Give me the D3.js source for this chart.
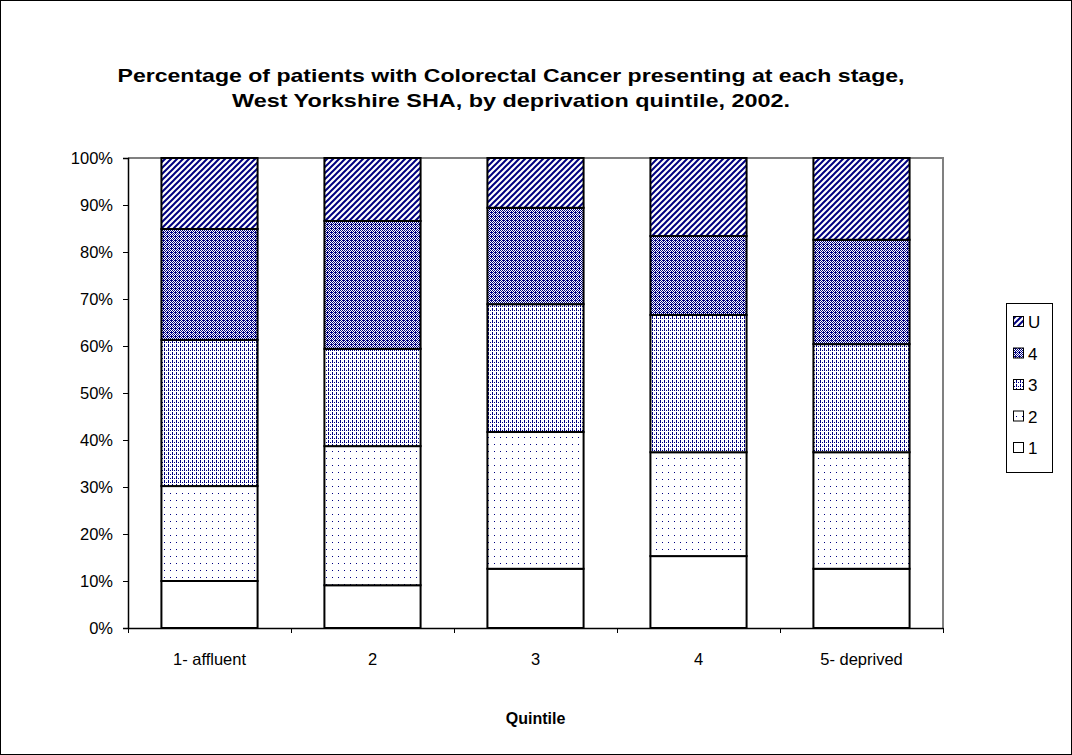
<!DOCTYPE html>
<html><head><meta charset="utf-8">
<script src="https://cdn.jsdelivr.net/npm/d3@7"></script>
<style>
body{margin:0;background:#fff}
svg{display:block}
text{font-family:"Liberation Sans",Arial,sans-serif;fill:#000}
</style>
</head><body>
<svg id="chart" width="1072" height="755"></svg>
<script>
// ---- data ----
const categories = ["1- affluent", "2", "3", "4", "5- deprived"];
const stages = ["1", "2", "3", "4", "U"];
const stage1 = [10.0, 9.1, 12.6, 15.3, 12.6];
const stage2 = [20.2, 29.6, 29.1, 22.1, 24.8];
const stage3 = [31.1, 20.7, 27.2, 29.2, 23.0];
const stage4 = [23.6, 27.2, 20.5, 16.8, 22.2];
const stageU = [15.1, 13.4, 10.6, 16.6, 17.4];
const yTicks = [0, 10, 20, 30, 40, 50, 60, 70, 80, 90, 100];
const titleLines = ["Percentage of patients with Colorectal Cancer presenting at each stage,",
                    "West Yorkshire SHA, by deprivation quintile, 2002."];
const xTitle = "Quintile";

(function () {
const seriesValues = {"1": stage1, "2": stage2, "3": stage3, "4": stage4, "U": stageU};
const rows = categories.map((c, i) => {
  const r = {cat: c};
  stages.forEach(s => r[s] = seriesValues[s][i]);
  return r;
});

const svg = d3.select("#chart");
const NAVY = "#000080";
const FONT = '"Liberation Sans",Arial,sans-serif';

// ---- patterns ----
const defs = svg.append("defs");
function pixPattern(id, w, h, pixels) {
  const p = defs.append("pattern").attr("id", id).attr("patternUnits", "userSpaceOnUse")
    .attr("width", w).attr("height", h);
  p.append("rect").attr("width", w).attr("height", h).attr("fill", "#fff");
  pixels.forEach(([px, py, pw, ph]) => p.append("rect").attr("x", px).attr("y", py)
    .attr("width", pw || 1).attr("height", ph || 1).attr("fill", NAVY));
  return p;
}
pixPattern("pat1", 4, 4, []);
pixPattern("pat2", 6, 7, [[2, 3]]);
pixPattern("pat3", 4, 4, [[0, 0, 1, 3], [2, 2]]);
pixPattern("pat4", 4, 4, [[0, 0], [2, 0], [1, 1], [3, 1], [0, 2], [2, 2], [1, 3], [3, 3], [3, 0]]);
const pu = defs.append("pattern").attr("id", "patU").attr("patternUnits", "userSpaceOnUse")
  .attr("width", 6).attr("height", 6);
pu.append("rect").attr("width", 6).attr("height", 6).attr("fill", "#fff");
pu.append("path").attr("d", "M-1,1 L1,-1 M0,6 L6,0 M5,7 L7,5")
  .attr("stroke", NAVY).attr("stroke-width", 2);
const fills = {"1": "url(#pat1)", "2": "url(#pat2)", "3": "url(#pat3)", "4": "url(#pat4)", "U": "url(#patU)"};

// ---- outer frame ----
svg.append("rect").attr("x", 0.5).attr("y", 0.5).attr("width", 1071).attr("height", 754)
  .attr("fill", "#fff").attr("stroke", "#000").attr("stroke-width", 1);

// ---- scales ----
const pL = 128, pR = 943, pT = 158, pB = 628;
const x = d3.scaleBand().domain(categories).range([pL, pR]).paddingInner(0.41).paddingOuter(0.205);
const y = d3.scaleLinear().domain([0, 100]).range([pB, pT]);
const xb = d3.scaleLinear().domain([0, categories.length]).range([pL, pR]);

svg.append("path").attr("d", `M${pL},${pT}H${pR}V${pB}`)
  .attr("fill", "none").attr("stroke", "#808080").attr("stroke-width", 2);

// ---- bars ----
const stacked = d3.stack().keys(stages)(rows);
const g = svg.append("g");
stacked.forEach(layer => {
  g.selectAll(null).data(layer).enter().append("rect")
    .attr("x", d => x(d.data.cat))
    .attr("width", x.bandwidth())
    .attr("y", d => y(d[1]))
    .attr("height", d => y(d[0]) - y(d[1]))
    .attr("fill", fills[layer.key])
    .attr("stroke", "#000").attr("stroke-width", 2);
});

// ---- axes ----
const yAxis = svg.append("g").attr("transform", `translate(${pL},0)`)
  .call(d3.axisLeft(y).tickValues(yTicks).tickFormat(d => d + "%").tickSize(5).tickPadding(10));
yAxis.select(".domain").attr("stroke", "#000").attr("stroke-width", 1.5);
yAxis.selectAll(".tick line").attr("stroke", "#000");
yAxis.selectAll("text").attr("font-size", 16.5).attr("font-family", FONT);

const xTicks = svg.append("g").attr("transform", `translate(0,${pB})`)
  .call(d3.axisBottom(xb).tickValues(d3.range(categories.length + 1)).tickFormat("").tickSize(5).tickSizeOuter(0));
xTicks.select(".domain").attr("stroke", "#000").attr("stroke-width", 1.5);
xTicks.selectAll(".tick line").attr("stroke", "#000");

const xAxis = svg.append("g").attr("transform", `translate(0,${pB})`)
  .call(d3.axisBottom(x).tickSize(0).tickPadding(25));
xAxis.select(".domain").remove();
xAxis.selectAll("text").attr("font-size", 16.5).attr("font-family", FONT);

// ---- titles ----
const titleWidths = [787, 558];
svg.append("g").selectAll("text").data(titleLines).enter().append("text")
  .attr("x", 511).attr("y", (d, i) => 82 + i * 25)
  .attr("text-anchor", "middle").attr("font-size", 19).attr("font-weight", "bold")
  .attr("textLength", (d, i) => titleWidths[i]).attr("lengthAdjust", "spacingAndGlyphs")
  .text(d => d);
svg.append("text").attr("x", (pL + pR) / 2).attr("y", 724)
  .attr("text-anchor", "middle").attr("font-size", 16).attr("font-weight", "bold").text(xTitle);

// ---- legend ----
const lg = svg.append("g");
lg.append("rect").attr("x", 1006.5).attr("y", 303.5).attr("width", 46).attr("height", 169)
  .attr("fill", "#fff").attr("stroke", "#000").attr("stroke-width", 1);
const legendOrder = stages.slice().reverse();
const ly = d3.scalePoint().domain(legendOrder).range([322, 448]);
legendOrder.forEach(s => {
  lg.append("rect").attr("x", 1013.5).attr("y", ly(s) - 5.5).attr("width", 10).attr("height", 10)
    .attr("fill", fills[s]).attr("stroke", "#000").attr("stroke-width", 1);
  lg.append("text").attr("x", 1028).attr("y", ly(s) + 6).attr("font-size", 17).text(s);
});
})();
</script>
</body></html>
